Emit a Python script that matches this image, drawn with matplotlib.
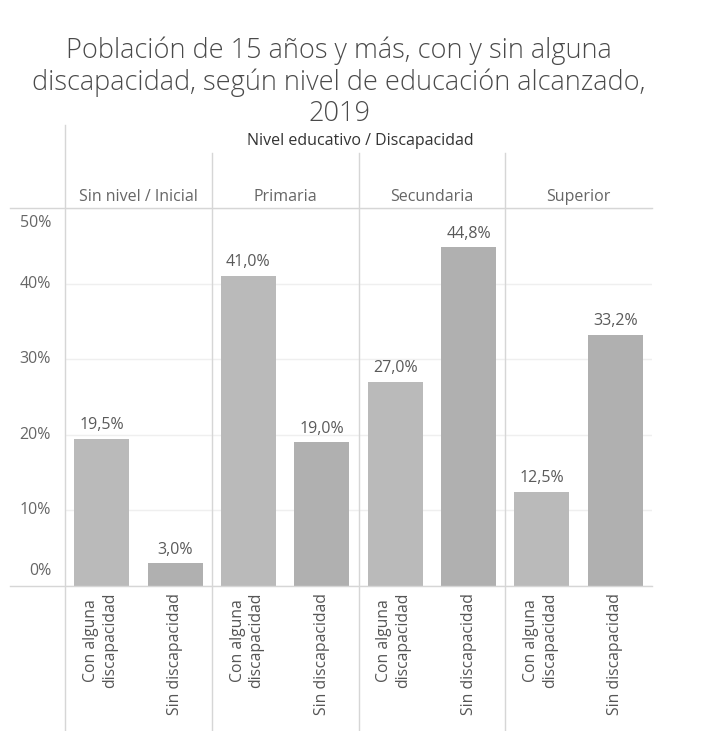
import matplotlib
matplotlib.use("Agg")
import matplotlib.pyplot as plt
from matplotlib.lines import Line2D

plt.rcParams['font.family'] = ['Open Sans', 'DejaVu Sans']

niveles = ["Sin nivel / Inicial", "Primaria", "Secundaria", "Superior"]
discapacidad = ["Con alguna\ndiscapacidad", "Sin discapacidad"]
con_alguna = [19.5, 41.0, 27.0, 12.5]
sin_disc = [3.0, 19.0, 44.8, 33.2]
yticks = [0, 10, 20, 30, 40, 50]
titulo = ["Población de 15 años y más, con y sin alguna",
          "discapacidad, según nivel de educación alcanzado,",
          "2019"]

W, H = 725, 731
fig = plt.figure(figsize=(W / 100, H / 100), dpi=100)

def fx(px):
    return px / W

def fy(py):
    return 1 - py / H

left_px, right_px, top_px, bot_px = 65, 652, 208, 586
ax = fig.add_axes([fx(left_px), fy(bot_px), fx(right_px) - fx(left_px), fy(top_px) - fy(bot_px)])

xs, vals, labels, colors = [], [], [], []
for i in range(len(niveles)):
    for j, serie in enumerate([con_alguna, sin_disc]):
        xs.append(2 * i + j)
        vals.append(serie[i])
        labels.append(discapacidad[j])
        colors.append("#bababa" if j == 0 else "#b0b0b0")

ax.bar(xs, vals, width=0.75, color=colors, zorder=3)
for x, v in zip(xs, vals):
    ax.annotate(f"{v:.1f}%".replace(".", ","), xy=(x, v), xytext=(0, 4),
                textcoords="offset points", ha="center", va="bottom",
                fontsize=11.5, color="#5a5a5a", zorder=4)

ax.set_xlim(-0.5, 7.5)
ax.set_ylim(0, 50)
for s in ax.spines.values():
    s.set_visible(False)
ax.set_yticks(yticks)
ax.set_yticklabels([])
ax.set_xticks([])
ax.tick_params(left=False, bottom=False, labelbottom=False)
ax.grid(axis="y", color="#efefef", linewidth=1, zorder=0)

# y tick labels (Tableau style: end labels nudged inside)
for t in yticks:
    va, dy = "center", 0
    if t == 50:
        va, dy = "top", -5
    elif t == 0:
        va, dy = "bottom", 5
    ax.annotate(f"{t}%", xy=(-0.5, t), xytext=(-10, dy), textcoords="offset points",
                ha="right", va=va, fontsize=11.5, color="#666666", annotation_clip=False)

# x labels (rotated)
for x, lab in zip(xs, labels):
    ax.annotate(lab, xy=(x, 0), xytext=(-1 if "\n" in lab else 0, -5),
                textcoords="offset points", ha="center", va="top", rotation=90,
                fontsize=11.3, color="#555555", linespacing=1.25, annotation_clip=False)

# separators and borders
lc = "#d6d6d6"
fig.add_artist(Line2D([fx(65), fx(65)], [fy(125), fy(731)], color=lc, lw=1))
panel_w = (right_px - left_px) / 4
for k in range(1, 4):
    xp = left_px + k * panel_w
    fig.add_artist(Line2D([fx(xp), fx(xp)], [fy(153), fy(731)], color=lc, lw=1))
fig.add_artist(Line2D([fx(10), fx(right_px)], [fy(208), fy(208)], color=lc, lw=1))
fig.add_artist(Line2D([fx(10), fx(right_px)], [fy(586), fy(586)], color=lc, lw=1))

# headers
fig.text(fx(360), fy(141), "Nivel educativo / Discapacidad", ha="center", va="center",
         fontsize=11.5, color="#333333")
for k, n in enumerate(niveles):
    xc = left_px + (k + 0.5) * panel_w
    fig.text(fx(xc), fy(197), n, ha="center", va="center", fontsize=11.5, color="#666666")

for line, base in zip(titulo, [58, 90, 121]):
    fig.text(fx(339), fy(base), line, ha="center", va="baseline",
             fontsize=19.5, color="#4a4a4a", fontweight="light")

fig.savefig("out.png", dpi=100, facecolor="white")
